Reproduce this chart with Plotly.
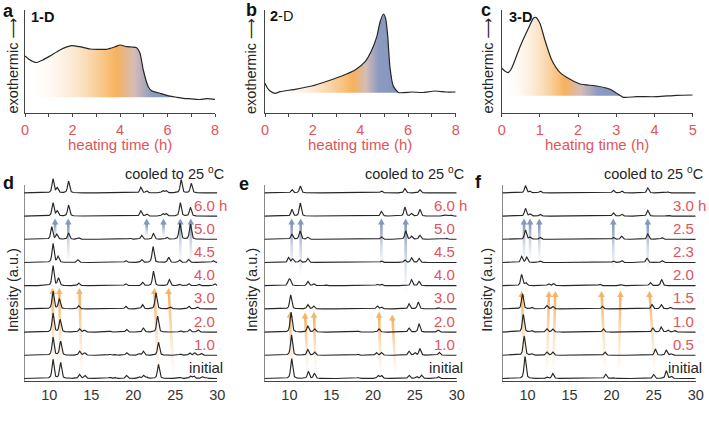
import numpy as np
import plotly.graph_objects as go

W, H = 709, 423
FONT = "Arial, Liberation Sans, Helvetica, sans-serif"
RED = "#e1545c"
DARK = "#262626"
AXC = "#444444"
ORANGE = (246, 176, 92)
BLUE = (128, 146, 188)

# ---------------- DSC curves (top row) ----------------
A_T = [0, 0.15, 0.35, 0.5, 0.75, 1.05, 1.47, 1.96, 2.3, 2.74, 3.1, 3.44, 3.8, 4.0, 4.28, 4.5, 4.7,
       4.84, 4.98, 5.19, 5.33, 5.68, 6.1, 6.4, 6.67, 7.0, 7.37, 7.65, 8.0]
A_Y = [57, 54, 51.3, 50.5, 53, 57, 63, 67.3, 66.3, 64, 63.7, 63.7, 66.3, 68, 66.3, 66, 65.3,
       60, 43, 26.3, 22.3, 19.7, 16.8, 15.7, 14.7, 14.2, 13.5, 14.3, 13.7]
A_BASE, A_END = 15.7, 6.4

B_T = [0, 0.1, 0.2, 0.42, 0.63, 1.26, 1.96, 2.66, 3.22, 3.78, 4.2, 4.48, 4.69, 4.83, 4.97, 5.06,
       5.15, 5.24, 5.38, 5.6, 6.15, 6.6, 7.13, 7.6, 8.0]
B_Y = [29.7, 25, 22.3, 19.7, 21.3, 23.7, 27, 32.3, 37, 43, 51.3, 63, 76.3, 91.3, 99, 94.7,
       76.3, 46.3, 27, 20.5, 21, 20.5, 22, 21, 21]
B_BASE, B_END = 20.3, 5.6

C_T = [0, 0.08, 0.17, 0.26, 0.48, 0.7, 0.83, 0.89, 1.0, 1.13, 1.31, 1.53, 1.79, 2.05, 2.49, 2.84,
       3.01, 3.18, 3.53, 4.06, 4.58, 5.0]
C_Y = [44.7, 42, 40.3, 44.7, 66.3, 84.7, 94.7, 95.7, 89.7, 73, 53, 40.3, 33.7, 29, 27, 23.7,
       19.7, 15.7, 16.3, 16.3, 17.7, 18]
C_BASE, C_END = 17.3, 3.15

TOP_TICKS_A = [0, 1, 2, 3, 4, 5, 6, 7, 8]
TOP_TEXT_A = ["0", " ", "2", " ", "4", " ", "6", " ", "8"]
TOP_TICKS_C = [0, 1, 2, 3, 4, 5]
TOP_TEXT_C = ["0", "1", "2", "3", "4", "5"]

# ---------------- PXRD patterns (bottom row): (2theta, peak height) ----------------
D_LABELS = ["initial", "1.0", "2.0", "3.0", "4.0", "4.5", "5.0", "6.0 h"]
D_PEAKS = [
    [(10.45, 19), (11.35, 16), (13.6, 4), (14.25, 3), (17.2, 1.2), (17.8, 1.2), (19.2, 3), (20.7, 1.5),
     (21.2, 3), (21.55, 1.5), (23.0, 14), (25.6, 1), (26.8, 2.5), (27.2, 2.5), (28.2, 2), (28.6, 1)],
    [(10.45, 18), (11.35, 14), (13.6, 4), (14.2, 2.5), (17.2, 1), (17.8, 1), (19.2, 2.7), (20.7, 1.5),
     (21.2, 4), (23.0, 13), (25.6, 1.2), (26.7, 2.5), (27.3, 2.5), (28.1, 2)],
    [(10.45, 19), (11.3, 12.5), (13.6, 3.3), (14.2, 2), (17.2, 1), (19.2, 2.7), (21.2, 4), (22.9, 16),
     (25.6, 1.5), (26.7, 2.7), (27.7, 2.5)],
    [(10.45, 17.5), (11.2, 10), (13.5, 3.3), (19.1, 2.7), (21.1, 4.3), (22.7, 16), (24.4, 2),
     (26.6, 2.7), (27.6, 2)],
    [(10.45, 20), (11.1, 7.5), (13.5, 2.7), (19.1, 2), (21.1, 3.3), (22.4, 14.5), (24.3, 6), (25.5, 1.5),
     (26.6, 2.3), (27.8, 1.5), (29.7, 2)],
    [(10.45, 19), (11.05, 6), (13.4, 2.7), (19.1, 2), (21.0, 3), (22.35, 16), (24.2, 5.3), (25.5, 2.5),
     (26.6, 3), (29.5, 2)],
    [(10.3, 12.5), (10.9, 5), (12.3, 6), (13.5, 1.5), (19.6, 1), (21.0, 4), (22.4, 5.7), (24.0, 2),
     (25.55, 16), (26.8, 15)],
    [(10.45, 13.3), (10.95, 5), (12.3, 11), (20.9, 5.3), (21.6, 2), (23.5, 2.5), (23.9, 2.5), (25.6, 13.3),
     (26.8, 8.7)],
    [(10.45, 14), (10.95, 5), (12.3, 11.7), (20.9, 5.7), (21.6, 2), (23.5, 2.3), (23.9, 2.3), (25.7, 13.3),
     (26.9, 9.5)],
]
E_LABELS = ["initial", "1.0", "2.0", "3.0", "4.0", "4.5", "5.0", "6.0 h"]
E_PEAKS = [
    [(10.27, 20), (12.26, 7), (13.0, 5), (18.2, 1), (20.6, 3), (21.0, 3), (24.3, 3.3), (25.2, 2),
     (25.8, 3.3), (27.8, 2)],
    [(10.25, 20.5), (12.2, 5.7), (13.0, 3.3), (18.2, 1), (20.4, 2.7), (21.0, 2.7), (24.3, 4), (25.0, 2.5),
     (25.6, 6.7), (27.9, 3)],
    [(10.2, 20), (12.2, 6), (13.0, 3.3), (18.2, 1), (20.7, 3.3), (24.3, 4), (25.5, 8.3), (27.8, 2)],
    [(10.15, 14), (12.2, 4.3), (12.9, 2.7), (20.5, 3), (21.0, 2), (24.3, 5), (25.4, 6.7), (27.8, 1.5)],
    [(9.9, 5), (10.1, 5), (12.2, 4.3), (12.9, 2), (14.3, 1), (20.5, 1.5), (21.0, 1.5), (24.6, 6), (25.5, 4.3)],
    [(9.9, 5), (10.4, 3.5), (11.25, 2.5), (12.2, 4), (21.0, 1.5), (23.8, 2.5), (24.6, 4.7), (25.5, 4)],
    [(10.3, 5), (11.27, 8.3), (12.2, 2), (21.0, 2.5), (23.9, 8.3), (24.6, 3), (25.6, 4), (28.8, 1)],
    [(10.3, 6.7), (11.3, 13), (21.0, 4.7), (23.8, 9), (24.6, 2.5), (25.6, 6.7), (28.6, 1), (29.3, 1)],
    [(10.3, 3.3), (11.3, 6.7), (21.0, 2), (23.8, 4.3), (25.6, 3.3)],
]
F_LABELS = ["initial", "0.5", "1.0", "1.5", "2.0", "2.3", "2.5", "3.0 h"]
F_PEAKS = [
    [(9.7, 22), (12.3, 1.5), (13.0, 5), (19.3, 4.3), (20.2, 1), (25.0, 4), (26.5, 7.7), (27.1, 2)],
    [(9.6, 19.3), (10.5, 1.5), (12.3, 3.3), (13.0, 3.3), (19.2, 3.3), (25.2, 6), (26.5, 5), (27.1, 1.5)],
    [(9.5, 17.7), (10.5, 1.5), (12.3, 3.3), (13.0, 3), (19.0, 3.3), (24.9, 4), (25.9, 5), (26.7, 2), (27.5, 1.5)],
    [(9.4, 15), (10.5, 1.5), (12.3, 3.3), (13.0, 2.5), (18.9, 2.7), (24.8, 4.3), (25.9, 4.3), (27.0, 1.5)],
    [(9.3, 11), (9.8, 3), (12.5, 2), (13.1, 2), (18.6, 1.5), (21.2, 1), (24.6, 3.3), (25.95, 6)],
    [(9.3, 6), (9.9, 5.3), (11.5, 1.5), (20.2, 1.5), (21.2, 2), (24.2, 4.3), (26.0, 2)],
    [(9.75, 9.3), (10.3, 2), (11.5, 2), (20.2, 2), (21.2, 3), (24.3, 5.3), (26.0, 1.5)],
    [(9.75, 7.7), (10.3, 2), (11.5, 2), (20.2, 3.3), (21.2, 2), (24.3, 5.7), (26.7, 1)],
    [(9.75, 7.3), (10.3, 1.5), (11.5, 2), (20.2, 2.7), (21.2, 2), (24.3, 5), (26.7, 1)],
]

# arrows: (2theta at tail, 2theta at head, row at tail, row at head)
D_ORANGE = [(10.5, 10.4, 0.15, 3.9), (11.35, 11.2, 0.15, 3.9), (13.85, 13.6, 0.15, 3.9),
            (23.0, 22.5, 0.15, 3.9), (24.8, 24.2, 0.12, 3.9)]
D_BLUE = [(10.7, 10.7, 6.0, 6.9), (12.27, 12.27, 5.05, 6.9), (21.6, 21.6, 6.05, 6.9),
          (23.6, 23.6, 6.05, 6.9), (25.6, 25.6, 5.05, 6.9), (26.85, 26.85, 5.05, 6.9)]
E_ORANGE = [(10.27, 10.07, 0.22, 2.88), (12.18, 11.87, 0.22, 2.85), (13.14, 12.94, 0.22, 2.88),
            (20.91, 20.72, 0.22, 2.88), (22.7, 22.3, 0.15, 2.76)]
E_BLUE = [(10.27, 10.27, 4.7, 6.9), (11.35, 11.35, 4.45, 6.9), (21.0, 21.0, 4.8, 6.9), (23.9, 23.9, 3.7, 6.9)]
F_ORANGE = [(9.7, 9.3, 0.22, 3.77), (12.3, 12.55, 0.22, 3.77), (13.05, 13.3, 0.22, 3.77),
            (19.25, 18.8, 0.22, 3.77), (20.85, 21.05, 0.22, 3.77), (25.16, 24.5, 0.22, 3.77)]
F_BLUE = [(9.58, 9.58, 5.0, 6.9), (10.3, 10.3, 5.1, 6.9), (11.4, 11.4, 5.1, 6.9),
          (20.2, 20.2, 4.65, 6.9), (24.3, 24.3, 4.65, 6.9)]

BOT_TICKS = [10, 15, 20, 25, 30]
ROW_BASE, ROW_STEP = 2.5, 23.2


def off(r):
    return ROW_BASE + ROW_STEP * r


def fx(px):
    return px / W


def fy(py):
    return 1 - py / H


TH = np.arange(7, 30.0001, 0.02)


def profile(peaks):
    y = np.zeros_like(TH)
    g = 0.14
    for p, h in peaks:
        u = (TH - p) / g
        y += h * (0.55 / (1 + u ** 2) + 0.45 * np.exp(-np.log(2) * u ** 2))
    return y


fig = go.Figure()


def grad_scale(o, b):
    return [[0, "rgba(255,255,255,0)"], [o * 0.45, "rgba(250,226,196,0.55)"], [o, "rgb(247,178,92)"],
            [o + (b - o) * 0.5, "rgb(212,188,182)"], [b, "rgb(140,155,192)"], [1, "rgb(132,148,190)"]]


top = [("x", "y", A_T, A_Y, A_BASE, A_END, 0.6, 0.84),
       ("x2", "y2", B_T, B_Y, B_BASE, B_END, 0.66, 0.85),
       ("x3", "y3", C_T, C_Y, C_BASE, C_END, 0.52, 0.8)]
for xr, yr, T, Y, base, end, o, b in top:
    T = np.array(T, float)
    Y = np.array(Y, float)
    m = T <= end + 1e-9
    fig.add_trace(go.Scatter(x=[0, end], y=[base, base], mode="lines", line=dict(width=0),
                             hoverinfo="skip", showlegend=False, xaxis=xr, yaxis=yr))
    fig.add_trace(go.Scatter(x=T[m], y=Y[m], mode="lines", line=dict(width=0, shape="spline", smoothing=0.6),
                             fill="tonexty", fillcolor="rgba(247,178,92,0.5)",
                             fillgradient=dict(type="horizontal", start=0, stop=end, colorscale=grad_scale(o, b)),
                             hoverinfo="skip", showlegend=False, xaxis=xr, yaxis=yr))
    fig.add_trace(go.Scatter(x=T, y=Y, mode="lines", line=dict(color=DARK, width=1.2, shape="spline", smoothing=0.6),
                             hoverinfo="skip", showlegend=False, xaxis=xr, yaxis=yr))

bottom = [("x4", "y4", D_PEAKS, D_LABELS, D_ORANGE, D_BLUE, 8.40),
          ("x5", "y5", E_PEAKS, E_LABELS, E_ORANGE, E_BLUE, 8.37),
          ("x6", "y6", F_PEAKS, F_LABELS, F_ORANGE, F_BLUE, 8.41)]


def add_arrow(xb, xt, rb, rt, rgb, xr, yr, pxu):
    yb, yt = off(rb), off(rt)
    head = 6.0
    hw = 3.3 / pxu
    sw = 1.3 / pxu
    ys = yt - head
    xs = xb + (xt - xb) * (ys - yb) / (yt - yb)
    c = "rgba(%d,%d,%d,%%s)" % rgb
    fig.add_trace(go.Scatter(x=[xb - sw, xb + sw, xs + sw, xs - sw, xb - sw], y=[yb, yb, ys + 0.6, ys + 0.6, yb],
                             mode="lines", line=dict(width=0), fill="toself", fillcolor=c % 0.6,
                             fillgradient=dict(type="vertical", start=yb, stop=ys,
                                               colorscale=[[0, c % 0], [0.5, c % 0.35], [1, c % 0.95]]),
                             hoverinfo="skip", showlegend=False, xaxis=xr, yaxis=yr))
    fig.add_trace(go.Scatter(x=[xt - hw, xt + hw, xt, xt - hw], y=[ys, ys, yt, ys], mode="lines",
                             line=dict(width=0), fill="toself", fillcolor=c % 0.95,
                             hoverinfo="skip", showlegend=False, xaxis=xr, yaxis=yr))


for xr, yr, peaks, labels, oa, ba, pxu in bottom:
    for a in oa:
        add_arrow(*a, ORANGE, xr, yr, pxu)
    for a in ba:
        add_arrow(*a, BLUE, xr, yr, pxu)
    for i, pk in enumerate(peaks):
        fig.add_trace(go.Scatter(x=TH, y=profile(pk) + off(i), mode="lines",
                                 line=dict(color=DARK, width=1.15), hoverinfo="skip",
                                 showlegend=False, xaxis=xr, yaxis=yr))

ann = []
shapes = []


def txt(x, y, s, size=14, color=DARK, bold=False, xanchor="center", angle=0, xref="paper", yref="paper", xshift=0):
    ann.append(dict(x=x, y=y, xref=xref, yref=yref, text=("<b>%s</b>" % s) if bold else s, showarrow=False,
                    font=dict(family=FONT, size=size, color=color), xanchor=xanchor, yanchor="middle",
                    textangle=angle, xshift=xshift))


# row labels
for xr, yr, peaks, labels, oa, ba, pxu in bottom:
    for i, lab in enumerate(labels):
        if lab == "initial":
            txt(30, off(i) + 11, lab, 15, DARK, xanchor="right", xref=xr, yref=yr, xshift=8)
        elif lab.endswith("h"):
            txt(30, off(i) + 11, lab, 15, RED, xanchor="right", xref=xr, yref=yr, xshift=12)
        else:
            txt(30, off(i) + 11, lab, 15, RED, xanchor="right", xref=xr, yref=yr)
    txt(30, 208, "cooled to 25 <sup>o</sup>C", 14.5, DARK, xanchor="right", xref=xr, yref=yr, xshift=9)
    txt(19, -30, "2θ (°)", 14.5, DARK, xref=xr, yref=yr)
    shapes.append(dict(type="line", xref=xr, yref=yr, x0=7, x1=7, y0=0, y1=196,
                       line=dict(color=AXC, width=1.2)))

# panel letters
for s, px, py in [("a", 8, 11.5), ("b", 251, 10), ("c", 486, 10), ("d", 8, 183), ("e", 244, 184), ("f", 479, 182)]:
    txt(fx(px), fy(py), s, 18, "#111", bold=True)
txt(fx(29), fy(17), "<b>1-D</b>", 14.5, "#111", xanchor="left")
txt(fx(268), fy(16), "<b>2</b>-D", 14.5, "#111", xanchor="left")
txt(fx(507), fy(17), "<b>3-D</b>", 14.5, "#111", xanchor="left")

EXO = "exothermic <span style=\"font-family:'DejaVu Sans'\">⟶</span>"
for px in [12.5, 251, 487.5]:
    txt(fx(px), fy(66), EXO, 14.5, DARK, angle=-90)
for px in [13, 251.7, 486.7]:
    txt(fx(px), fy(290), "Intesity (a.u.)", 14.5, DARK, angle=-90)
for px in [120, 360.3, 597.2]:
    txt(fx(px), fy(144), "heating time (h)", 15, RED)

layout = dict(template="none", width=W, height=H, margin=dict(l=0, r=0, t=0, b=0, autoexpand=False),
              paper_bgcolor="white", plot_bgcolor="rgba(0,0,0,0)", showlegend=False,
              annotations=ann, shapes=shapes, font=dict(family=FONT))


def xaxis(dom, rng, tv, tt, color, ticks, anchor):
    return dict(domain=dom, range=rng, showline=True, linecolor=AXC, linewidth=1.2, tickvals=tv, ticktext=tt,
                ticks=ticks, ticklen=3, tickcolor=AXC, tickwidth=1, automargin=False,
                tickfont=dict(family=FONT, size=14.5, color=color), showgrid=False, zeroline=False,
                fixedrange=True, anchor=anchor)


def yaxis(dom, rng, show, anchor):
    return dict(domain=dom, range=rng, showline=show, linecolor=AXC, linewidth=1.2, showticklabels=False,
                ticks="", showgrid=False, zeroline=False, fixedrange=True, anchor=anchor, automargin=False)


ytop = [fy(113), fy(10)]
ybot = [fy(381), fy(170)]
layout["xaxis"] = xaxis([fx(25), fx(215)], [0, 8], TOP_TICKS_A, TOP_TEXT_A, RED, "outside", "y")
layout["yaxis"] = yaxis(ytop, [0, 103], True, "x")
layout["xaxis2"] = xaxis([fx(265), fx(455.7)], [0, 8], TOP_TICKS_A, TOP_TEXT_A, RED, "outside", "y2")
layout["yaxis2"] = yaxis(ytop, [0, 103], True, "x2")
layout["xaxis3"] = xaxis([fx(501.7), fx(692.7)], [0, 5], TOP_TICKS_C, TOP_TEXT_C, RED, "outside", "y3")
layout["yaxis3"] = yaxis(ytop, [0, 103], True, "x3")
BT = [str(v) for v in BOT_TICKS]
layout["xaxis4"] = xaxis([fx(24), fx(217.3)], [7, 30], BOT_TICKS, BT, "#333", "", "y4")
layout["yaxis4"] = yaxis(ybot, [0, 211], False, "x4")
layout["xaxis5"] = xaxis([fx(264.3), fx(456.7)], [7, 30], BOT_TICKS, BT, "#333", "", "y5")
layout["yaxis5"] = yaxis(ybot, [0, 211], False, "x5")
layout["xaxis6"] = xaxis([fx(502.3), fx(695.7)], [7, 30], BOT_TICKS, BT, "#333", "", "y6")
layout["yaxis6"] = yaxis(ybot, [0, 211], False, "x6")

fig.update_layout(**layout)
fig.write_html("out.html", config={"displayModeBar": False, "staticPlot": True},
               post_script="document.body.style.margin='0px';document.body.style.overflow='hidden';")
